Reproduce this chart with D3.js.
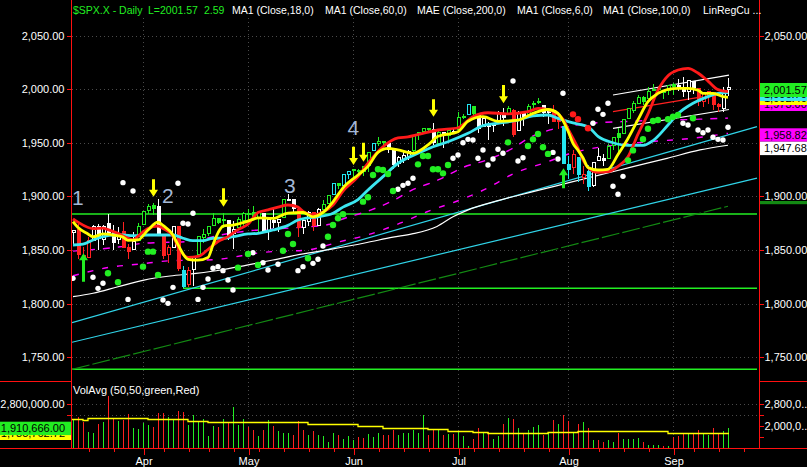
<!DOCTYPE html>
<html>
<head>
<meta charset="utf-8">
<script src="https://cdn.jsdelivr.net/npm/d3@7"></script>
<style>
  body { margin: 0; background: #000; }
  svg { display: block; }
</style>
</head>
<body>
<div id="chart"></div>
<script>
// ---- data ----
// trading days 2014-03-12 .. 2014-09-17, index 0..131
const monthLabels = ['Apr', 'May', 'Jun', 'Jul', 'Aug', 'Sep'];
const monthStartIdx = [14, 35, 56, 77, 99, 120];
const weekStartIdx = [3, 8, 18, 23, 27, 32, 37, 42, 47, 52, 61, 66, 71, 80, 85, 90, 95, 105, 110, 115, 124, 129, 134];

const opens = [1866.2,1869.1,1845.1,1842.8,1858.9,1872.3,1860.1,1874.5,1867.7,1859.5,
  1867.1,1852.1,1850.1,1859.2,1873.96,1886.6,1891.4,1890.3,1863.9,1845.5,
  1852.6,1872.3,1830.7,1818.2,1831.5,1846.0,1861.7,1865.8,1872.6,1879.3,
  1877.7,1877.7,1865.0,1870.8,1877.1,1884.4,1885.3,1879.5,1883.7,1868.5,
  1877.4,1875.3,1880.0,1896.75,1897.1,1888.2,1871.2,1876.7,1884.9,1873.3,
  1888.2,1893.3,1902.0,1911.8,1910.6,1920.3,1923.9,1923.1,1923.1,1928.5,
  1942.4,1948.97,1950.3,1949.4,1943.4,1930.8,1934.8,1937.2,1942.7,1957.5,
  1960.45,1962.9,1961.97,1949.3,1959.9,1956.6,1960.8,1962.3,1973.1,1975.9,
  1984.2,1976.4,1965.1,1966.7,1965.8,1969.9,1977.4,1976.4,1979.8,1961.5,
  1976.9,1975.7,1985.3,1988.1,1984.6,1978.97,1980.0,1973.2,1965.1,1929.8,
  1926.6,1936.3,1917.3,1923.0,1910.35,1933.4,1935.7,1935.6,1947.4,1958.9,
  1958.4,1972.7,1980.5,1986.8,1992.6,1991.7,1998.6,2000.5,1997.4,1998.45,
  2004.1,2003.6,2001.7,1998.0,2007.2,2000.7,1988.4,1992.85,1996.7,1986.0,
  1981.9,1999.3];
const highs = [1868.4,1874.4,1852.4,1862.3,1873.8,1874.1,1873.5,1884.0,1873.3,1871.9,
  1875.9,1855.6,1866.6,1875.2,1885.8,1893.2,1893.8,1897.3,1864.0,1855.0,
  1872.4,1872.5,1835.1,1834.2,1844.0,1862.3,1869.6,1871.9,1884.9,1879.8,
  1884.1,1877.7,1877.0,1880.6,1885.2,1888.6,1891.3,1885.5,1883.7,1878.8,
  1889.1,1878.6,1897.1,1902.2,1897.1,1888.2,1878.3,1886.0,1884.9,1888.8,
  1896.3,1901.3,1912.3,1912.9,1920.0,1924.0,1925.9,1925.1,1928.6,1941.7,
  1949.4,1955.6,1950.9,1949.4,1943.4,1937.3,1941.2,1943.7,1957.7,1959.9,
  1963.9,1963.7,1968.2,1960.8,1959.9,1961.5,1964.2,1978.6,1976.7,1985.6,
  1984.2,1976.4,1974.2,1969.8,1968.7,1979.8,1982.5,1983.9,1981.8,1979.9,
  1976.9,1986.2,1989.2,1991.4,1984.6,1981.5,1984.85,1978.9,1965.1,1937.35,
  1942.9,1936.3,1927.9,1928.9,1932.4,1944.9,1939.65,1948.4,1955.2,1964.0,
  1972.0,1982.6,1988.6,1994.8,1993.5,2002.0,2005.0,2002.1,1998.5,2003.4,
  2006.1,2009.3,2011.2,2007.7,2007.2,2001.0,1996.7,1997.65,1996.7,1987.2,
  2002.3,2010.7];
const lows = [1854.4,1841.9,1839.6,1842.8,1858.9,1850.4,1854.6,1863.5,1849.7,1856.0,
  1852.6,1842.1,1850.1,1859.2,1873.96,1883.8,1882.7,1863.3,1841.5,1837.5,
  1852.4,1830.9,1814.4,1815.8,1816.3,1846.0,1856.7,1863.2,1872.6,1873.9,
  1870.2,1859.7,1850.6,1870.8,1872.7,1878.0,1878.5,1866.8,1867.7,1859.8,
  1870.1,1867.0,1880.0,1896.0,1885.8,1862.4,1864.8,1872.4,1868.1,1873.3,
  1885.4,1893.3,1902.0,1906.5,1909.8,1916.4,1916.0,1918.8,1918.6,1922.9,
  1942.4,1947.2,1944.6,1940.1,1925.8,1927.7,1930.9,1933.6,1939.3,1952.3,
  1959.2,1958.9,1948.3,1947.5,1944.7,1952.2,1958.2,1962.3,1972.6,1975.9,
  1975.9,1959.5,1965.1,1952.9,1959.6,1969.9,1965.3,1975.7,1955.6,1960.8,
  1965.8,1975.7,1982.4,1985.8,1974.4,1967.3,1969.95,1962.4,1930.7,1916.4,
  1921.2,1913.8,1911.45,1904.8,1909.0,1933.4,1928.3,1935.6,1942.9,1941.5,
  1958.4,1972.7,1977.7,1986.8,1984.8,1991.7,1998.6,1996.2,1990.5,1994.65,
  1994.85,1998.1,1992.4,1990.1,1995.6,1984.6,1983.0,1985.9,1980.3,1978.5,
  1979.1,1993.3];
const closes = [1868.2,1846.3,1841.1,1858.8,1872.3,1860.8,1872.0,1866.5,1857.4,1865.6,
  1852.6,1849.0,1857.6,1872.3,1885.5,1890.9,1888.8,1865.1,1845.0,1852.0,
  1872.2,1833.1,1815.7,1830.6,1843.0,1862.3,1864.85,1871.9,1879.6,1875.4,
  1878.6,1863.4,1869.4,1878.3,1883.95,1883.7,1881.1,1884.7,1867.7,1878.2,
  1875.6,1878.5,1896.7,1897.45,1888.5,1870.85,1877.9,1885.1,1872.8,1888.0,
  1892.5,1900.5,1911.9,1909.8,1920.0,1923.6,1925.0,1924.2,1927.9,1940.5,
  1949.4,1951.3,1950.8,1943.9,1930.1,1936.2,1937.8,1942.0,1957.0,1959.5,
  1962.9,1962.6,1950.0,1959.5,1957.2,1961.0,1960.2,1973.3,1974.6,1985.4,
  1977.65,1963.7,1972.8,1964.7,1967.6,1977.1,1973.3,1981.6,1958.1,1978.2,
  1973.6,1983.5,1987.0,1988.0,1978.3,1978.9,1969.95,1970.1,1930.7,1925.15,
  1939.0,1920.2,1920.2,1909.6,1931.6,1936.9,1933.75,1946.7,1955.2,1955.1,
  1971.7,1981.6,1986.5,1992.4,1988.4,1997.9,2000.0,2000.1,1996.7,2003.4,
  2002.3,2000.7,1997.65,2007.7,2001.5,1988.4,1995.7,1997.45,1985.5,1984.1,
  1999.0,2001.57];
// bar paint colour: w white, r red, g green, c cyan
const barColors = ('wrrrwwwwww' + 'rrwggggwrr' + 'wrcrwggggg' + 'gwwgggggww' + 'wwgwwrwwrw' +
  'ggcgccgggg' + 'cggwwwwwgg' + 'ggwgwgwggc' + 'gwwwwwwgrw' + 'wgggwwrrcc' +
  'rcrcwwwggg' + 'gggggggggg' + 'gwwwwrrrrr' + 'ww').split('');

// volume in millions
const volumes = [2.25,2.31,2.15,1.79,1.75,2.07,2.13,3.09,2.27,2.18,
  2.21,2.43,1.91,1.88,2.12,2.03,1.97,2.46,2.49,2.34,
  2.24,2.54,2.52,2.03,2.40,2.19,2.24,1.64,1.99,1.97,
  2.24,2.12,2.70,2.03,2.24,1.97,1.85,1.64,1.87,2.21,
  1.99,1.81,1.75,1.73,1.66,2.18,1.85,1.66,1.81,1.66,
  1.63,1.42,1.73,1.66,1.54,1.63,1.48,1.60,1.57,1.70,
  1.60,1.73,1.66,1.66,1.85,1.66,1.73,1.75,1.85,1.75,
  2.40,1.66,1.87,1.87,1.66,1.70,1.70,1.79,1.63,1.26,
  1.54,1.93,1.76,1.79,1.54,1.63,2.06,2.30,2.25,1.93,
  1.70,1.85,1.97,2.03,1.66,1.79,2.21,2.09,2.40,2.19,
  1.79,2.09,2.13,1.93,1.48,1.48,1.42,1.48,1.42,1.73,
  1.54,1.51,1.51,1.58,1.42,1.30,1.30,1.30,1.26,1.26,
  1.60,1.63,1.75,1.70,1.70,1.85,1.70,1.66,1.93,1.75,
  1.81,1.91];
const volColors = ('grrggrgrrg' + 'rrggggrrrg' + 'grrggggggr' + 'grgggrrgrg' + 'rgggrrrgrg' +
  'gggrgggrrg' + 'ggrrrggggg' + 'grrgrgrggg' + 'rrgrggrgrg' + 'rgggrgrgrr' +
  'grgrgrrggr' + 'ggggrgggrg' + 'rrrgrrggrr' + 'gg').split('');
// 50-day volume average, [start index, millions]
const volAvgSteps = [[-0.3,2.25],[2,2.226],[3,2.275],[15,2.238],[23,2.19],[27,2.153],[38,2.128],
  [47,2.09],[57,2.006],[62,1.933],[71,1.884],[75,1.835],[80,1.786],[83,1.762],[95,1.786],
  [101,1.835],[115,1.811],[119,1.762],[131.2,1.762]];
const lastVolume = 1910666;
const lastVolAvg = 1785762.72;

// indicator lines, [bar index, price]
const redLine = [[0,1879],[1,1876],[4,1870],[6,1870.5],[7,1869],[9,1865.6],[11,1861],[12,1859.4],[13,1863],
  [15,1870],[17,1872.4],[18,1870],[20,1863],[21,1853],[23,1843.2],[25,1844],[27,1850.5],[29,1858],
  [31,1862.5],[33,1869],[35,1874],[37,1885],[39,1887.5],[41,1890],[43,1892],[45,1890],[46,1886],
  [48,1882.7],[50,1885.5],[52,1892],[54,1905],[57,1918.4],[59,1931],[62,1946.3],[65,1954.5],
  [67,1955.5],[70,1958.8],[73,1961.9],[77,1964],[80,1974.3],[83,1978],[87,1977],[91,1979],
  [93,1982],[95,1981],[98,1972],[99,1963],[101,1945],[102,1934],[103,1927],[105,1922.5],
  [107,1923],[109,1928],[111,1937],[113,1958],[115,1977],[117,1999],[119,2012.5],[121,2017.8],
  [123,2019.4],[125,2015],[127,2007.5],[129,1999.5],[131,1997.6]];
const yellowLine = [[0,1876.4],[1,1871],[3,1865],[4,1862.4],[6,1865],[8,1864],[10,1862],[11,1859],
  [13,1859.4],[15,1868.7],[17,1876],[18,1873],[20,1864],[21,1855],[23,1841.4],[25,1840.5],[27,1843],
  [28,1855],[29,1866],[30,1872.4],[32,1873.3],[34,1875.5],[36,1878.6],[37,1880],[40,1879.5],
  [43,1884.5],[46,1885],[48,1881],[50,1885],[52,1895],[54,1908],[57,1920],[59,1928],[61,1941],
  [63,1944.8],[65,1943.3],[68,1940.2],[71,1948],[73,1956],[77,1960.3],[79,1970],[82,1974.3],
  [85,1970],[89,1971.2],[92,1977.4],[95,1981],[97,1977.4],[99,1961],[100,1949.5],[101,1943],
  [102,1936],[103,1927],[105,1924.6],[107,1925.3],[109,1939],[111,1954],[113,1971.5],
  [115,1988.3],[117,1996],[119,1999.8],[121,2000.8],[123,2000.8],[125,1999],[126,1996.1],
  [128,1996.1],[130,1993],[131,1992.4]];
const cyanLine = [[0,1854.7],[2,1855.6],[4,1859.4],[6,1862.4],[8,1864],[10,1864],[12,1863.4],[15,1864],
  [17,1864],[20,1864],[22,1861],[24,1858.7],[26,1858.7],[28,1861],[30,1861],[32,1862.5],[35,1865],
  [37,1865.6],[40,1868.7],[43,1873],[45,1878],[47,1880],[49,1881],[52,1884.3],[54,1890],[57,1897],
  [59,1906],[62,1918.4],[65,1930.9],[69,1940.2],[72,1946.3],[75,1951],[79,1958.8],[82,1966],
  [85,1968.2],[89,1971.2],[92,1975],[95,1975.9],[97,1972.8],[100,1968.5],[103,1965],[105,1956],
  [108,1950],[111,1947.5],[114,1947.5],[116,1952],[119,1966.6],[121,1977],[124,1986.8],
  [127,1993],[129,1996],[131,1996.7]];
const magUpper = [[0,1849],[5.4,1851],[9.4,1853],[13.4,1856],[17.4,1857],[23.4,1858],[29.4,1864],
  [35.4,1868],[43.4,1870.5],[51.4,1874],[53.4,1878],[59.4,1887],[64.4,1897],[67.4,1905],[73.4,1916],
  [78,1927],[82.8,1934],[88,1945],[91.4,1955],[95.4,1962],[103.4,1968],[111.4,1970],[125.4,1972],
  [131,1973]];
const magLower = [[0,1826],[7.4,1834],[13.4,1837],[19.4,1840],[28,1841],[38.4,1848],[46.8,1850],
  [53.4,1857.8],[58.8,1864],[65.4,1875],[70.8,1885.7],[77.4,1896.6],[82.8,1907.5],[88,1921],
  [94.8,1932],[99.4,1940],[105.4,1946],[115.4,1951],[123.4,1954],[131,1958.82]];
const whiteLine = [[0,1806.5],[4,1809.7],[9,1815.8],[14.2,1822],[19.4,1825.8],[24.6,1828.3],
  [29.6,1831.4],[34.8,1836],[40,1840.7],[45.4,1846],[52,1851],[58.8,1857],[64,1862],[67.8,1865],
  [72.8,1872],[76,1881],[78.8,1887],[85.4,1896.5],[92,1904.4],[99.4,1913],[105.4,1920],
  [112,1927.7],[118.8,1935.5],[125.4,1943.3],[131,1947.68]];
const cyanUpper = [[-0.2,1782.3],[136.8,1965]];
const cyanLower = [[-0.2,1764],[136.8,1917]];
const darkGreenLine = [[-0.2,1738.8],[131,1890.8]];
const channelTop = [[108,1994.5],[131.2,2013]];
const channelMid = [[108,1979],[131.2,1997]];
const channelBottom = [[108,1963.5],[131.2,1981]];
const supportLevels = [1883.6, 1814.3, 1738.8];
const supportStart = [-0.2, 22, -0.2];

const whiteDots = [[0,1823.6],[4,1824.6],[5,1814.3],[6,1819],[10,1912.8],[11,1804],[12,1905],[18,1803.4],
  [19,1800.3],[20,1815.2],[21,1912.2],[22,1875],[23,1874.3],[24,1884.3],[25,1804],[26,1815.2],
  [27,1823],[28,1833],[29,1834.5],[30,1830.8],[31,1822],[32,1812.7],[36,1847.5],[38,1838.2],
  [39,1831.4],[41,1836.7],[45,1830.8],[46,1834.5],[48,1837.6],[49,1841.4],[50,1853.7],[65,1906.6],
  [66,1910.3],[67,1912.2],[68,1916.9],[76,1935.5],[77,1938.6],[78,1950],[79,1953.2],[80,1952.6],
  [81,1935.5],[82,1943.3],[83,1929.3],[84,1934.9],[85,1943.9],[86,1940.2],[88,2007.6],[89,1933],
  [90,1936.1],[96,1941],[97,1934.9],[98,1996.1],[104,1968.2],[105,1981.2],[106,1976.5],
  [107,1986.8],[108,1909.5],[109,1902],[110,1918.7],[122,1968.2],[123,1966.6],[125,1961.9],
  [126,1959.4],[127,1961.9],[128,1955.1],[129,1953.2],[130,1952.6],[131,1964.4]];
const greenDots = [[7,1828.3],[9,1820],[14,1834.5],[15,1848.5],[16,1848.5],[17,1826.8],[33,1833.6],
  [35,1846.3],[37,1836],[42,1849.4],[43,1865],[44,1855.6],[47,1842.3],[51,1862.4],[52,1873.3],
  [53,1879.6],[54,1883.3],[58,1895.1],[59,1899.2],[60,1920],[61,1925.3],[62,1924.6],[63,1920.9],
  [64,1905],[69,1929.9],[70,1937.7],[71,1937.7],[72,1925.3],[73,1925.3],[74,1921.5],[75,1929.3],
  [87,1950.4],[91,1947],[92,1953.2],[93,1958.2],[94,1945.8],[95,1939.6],[111,1933.6],[112,1942.9],
  [114,1953.3],[115,1963],[116,1970.3],[117,1971.2],[119,1971.9],[120,1974.3],[121,1975.9],
  [124,1972.8]];
const redDots = [[100,1976.5],[101,1972],[103,1963.5]];

// [bar index, tip price, tail price]
const downArrows = [[16,1899.7,1916],[30,1890.4,1907.5],[56,1929.3,1946.3],[58,1932.4,1950],
  [72,1974.3,1990.5],[86,1986.8,2003.9]];
const upArrows = [[2,1847,1820.5],[98,1926.2,1907.6]];
// wave counts [label, bar index, price at baseline]
const waveLabels = [['1',-0.2,1892],['2',17.8,1894],['3',42.2,1903],['4',54.9,1957.5]];

const priceTicks = [1750, 1800, 1850, 1900, 1950, 2000, 2050];
const volTicksLeft = [2.8, 2.4];
const volTicksRight = [2.8, 2.4, 2.0, 1.6];
const volLabelsRight = {2.8: '2,800,0..', 2.0: '2,000,0..'};

// ---- drawing ----
const FONT = '"Liberation Sans", Arial, sans-serif';
const W = 807, H = 467;
const COL = { w: '#ffffff', r: '#ff2020', g: '#22ee22', c: '#22e5f0' };
const GREEN = '#22ee22', AXIS = '#ff1010';

const x = d3.scaleLinear().domain([0, 131]).range([73, 728]);
const y = d3.scaleLinear().domain([1750, 2050]).range([357.3, 35.5]);
const yv = d3.scaleLinear().domain([2.0, 2.8]).range([426, 404]);
const volBase = 448;

const svg = d3.select('#chart').append('svg').attr('width', W).attr('height', H)
  .attr('font-family', FONT);
svg.append('rect').attr('width', W).attr('height', H).attr('fill', '#000');

const defs = svg.append('defs');
defs.append('clipPath').attr('id', 'pp').append('rect')
  .attr('x', 72).attr('y', 17).attr('width', 686).attr('height', 363);

// grid
const grid = svg.append('g').attr('stroke', '#4a4a4a').attr('stroke-dasharray', '1,3');
grid.selectAll('.hg').data(priceTicks).join('line')
  .attr('x1', 72).attr('x2', 758).attr('y1', d => Math.round(y(d)) + 0.5).attr('y2', d => Math.round(y(d)) + 0.5);
grid.selectAll('.vg').data(volTicksLeft).join('line')
  .attr('x1', 72).attr('x2', 758).attr('y1', d => Math.round(yv(d)) + 0.5).attr('y2', d => Math.round(yv(d)) + 0.5);
grid.selectAll('.mg').data(monthStartIdx).join('line')
  .attr('x1', d => x(d) + 0.5).attr('x2', d => x(d) + 0.5).attr('y1', 18).attr('y2', 447);

const pp = svg.append('g').attr('clip-path', 'url(#pp)');
const line = d3.line().x(d => x(d[0])).y(d => y(d[1]));
const smooth = d3.line().x(d => x(d[0])).y(d => y(d[1])).curve(d3.curveMonotoneX);

// support lines
pp.selectAll('.sup').data(supportLevels).join('line')
  .attr('x1', (d, i) => x(supportStart[i])).attr('x2', x(136.8))
  .attr('y1', d => y(d)).attr('y2', d => y(d))
  .attr('stroke', GREEN).attr('stroke-width', 1.5);

// thin lines
pp.append('path').attr('d', line(cyanUpper)).attr('stroke', '#30d4e8').attr('fill', 'none').attr('stroke-width', 1.2);
pp.append('path').attr('d', line(cyanLower)).attr('stroke', '#30d4e8').attr('fill', 'none').attr('stroke-width', 1.2);
pp.append('path').attr('d', line(darkGreenLine)).attr('stroke', '#138a13').attr('fill', 'none')
  .attr('stroke-width', 1.2).attr('stroke-dasharray', '18,3');
pp.append('path').attr('d', smooth(whiteLine)).attr('stroke', '#ffffff').attr('fill', 'none').attr('stroke-width', 1.2);
pp.append('path').attr('d', smooth(magUpper)).attr('stroke', '#ff00ff').attr('fill', 'none')
  .attr('stroke-width', 1.4).attr('stroke-dasharray', '7,8');
pp.append('path').attr('d', smooth(magLower)).attr('stroke', '#ff00ff').attr('fill', 'none')
  .attr('stroke-width', 1.4).attr('stroke-dasharray', '6,9');
pp.append('path').attr('d', line(channelTop)).attr('stroke', '#ffffff').attr('fill', 'none').attr('stroke-width', 1.2);
pp.append('path').attr('d', line(channelMid)).attr('stroke', '#ff2020').attr('fill', 'none').attr('stroke-width', 1.2);
pp.append('path').attr('d', line(channelBottom)).attr('stroke', '#ffffff').attr('fill', 'none').attr('stroke-width', 1.2);

// candles
const bars = d3.range(closes.length).map(i => ({
  i, o: opens[i], h: highs[i], l: lows[i], c: closes[i], col: COL[barColors[i]]
}));
const cg = pp.append('g').attr('shape-rendering', 'crispEdges');
cg.selectAll('.wick').data(bars).join('line')
  .attr('x1', d => x(d.i) + 0.5).attr('x2', d => x(d.i) + 0.5)
  .attr('y1', d => y(d.h)).attr('y2', d => y(d.l)).attr('stroke', d => d.col);
cg.selectAll('.body').data(bars).join('rect')
  .attr('x', d => x(d.i) - 1)
  .attr('y', d => y(Math.max(d.o, d.c)))
  .attr('width', 3)
  .attr('height', d => Math.max(1, Math.abs(y(d.o) - y(d.c))))
  .attr('fill', d => d.c >= d.o ? '#000' : d.col)
  .attr('stroke', d => d.col).attr('stroke-width', 1);

// thick averages
[[cyanLine, '#3ce6f0'], [redLine, '#ff1a1a'], [yellowLine, '#ffff00']].forEach(([data, c]) => {
  pp.append('path').attr('d', smooth(data)).attr('stroke', c).attr('fill', 'none')
    .attr('stroke-width', 2.8).attr('stroke-linejoin', 'round');
});

// dots
pp.selectAll('.wd').data(whiteDots).join('circle')
  .attr('cx', d => x(d[0])).attr('cy', d => y(d[1])).attr('r', 2.7).attr('fill', '#ffffff');
pp.selectAll('.gd').data(greenDots).join('circle')
  .attr('cx', d => x(d[0])).attr('cy', d => y(d[1])).attr('r', 3.2).attr('fill', GREEN);
pp.selectAll('.rd').data(redDots).join('circle')
  .attr('cx', d => x(d[0])).attr('cy', d => y(d[1])).attr('r', 3.2).attr('fill', '#ff1a1a');

// arrows
function arrow(xc, tip, tail, dir) {
  // dir = 1 pointing down, -1 pointing up
  const head = 7 * dir;
  return `M${xc - 1.5},${tail} L${xc + 1.5},${tail} L${xc + 1.5},${tip - head} L${xc + 4.5},${tip - head} ` +
    `L${xc},${tip} L${xc - 4.5},${tip - head} L${xc - 1.5},${tip - head} Z`;
}
pp.selectAll('.da').data(downArrows).join('path')
  .attr('d', d => arrow(x(d[0]) + 0.5, y(d[1]), y(d[2]), 1)).attr('fill', '#ffff00');
pp.selectAll('.ua').data(upArrows).join('path')
  .attr('d', d => arrow(x(d[0]) + 0.5, y(d[1]), y(d[2]), -1)).attr('fill', GREEN);

// wave counts
pp.selectAll('.wave').data(waveLabels).join('text')
  .attr('x', d => x(d[1])).attr('y', d => y(d[2]))
  .attr('font-size', 21).attr('fill', '#a4b8d6').text(d => d[0]);

// ---- volume pane ----
const vg = svg.append('g').attr('shape-rendering', 'crispEdges');
vg.selectAll('line').data(volumes).join('line')
  .attr('x1', (d, i) => x(i) + 0.5).attr('x2', (d, i) => x(i) + 0.5)
  .attr('y1', d => yv(d)).attr('y2', volBase)
  .attr('stroke', (d, i) => volColors[i] === 'g' ? GREEN : '#ff2020').attr('stroke-width', 1);
svg.append('path')
  .attr('d', d3.line().x(d => x(d[0])).y(d => Math.round(yv(d[1])) + 0.5).curve(d3.curveStepAfter)(volAvgSteps))
  .attr('stroke', '#ffff00').attr('stroke-width', 1.3).attr('fill', 'none');
svg.append('text').attr('x', 73).attr('y', 394).attr('font-size', 11).attr('fill', '#fff')
  .text('VolAvg (50,50,green,Red)');

// ---- frame ----
const frame = svg.append('g').attr('stroke', AXIS).attr('shape-rendering', 'crispEdges');
frame.append('line').attr('x1', 71.5).attr('x2', 71.5).attr('y1', 0).attr('y2', 448);
frame.append('line').attr('x1', 759.5).attr('x2', 759.5).attr('y1', 0).attr('y2', 448);
frame.append('line').attr('x1', 0).attr('x2', 71).attr('y1', 381.5).attr('y2', 381.5);
frame.append('line').attr('x1', 760).attr('x2', W).attr('y1', 381.5).attr('y2', 381.5);
frame.append('line').attr('x1', 0).attr('x2', W).attr('y1', 448.5).attr('y2', 448.5);

function styleAxis(g) {
  g.select('.domain').remove();
  g.attr('font-family', FONT).attr('font-size', 11);
  g.selectAll('line').attr('stroke', AXIS).attr('shape-rendering', 'crispEdges');
  g.selectAll('text').attr('fill', '#fff');
}
const fmt2 = d3.format(',.2f');
svg.append('g').attr('transform', 'translate(71.5,0)')
  .call(d3.axisLeft(y).tickValues(priceTicks).tickFormat(fmt2).tickSize(5).tickPadding(2)).call(styleAxis);
svg.append('g').attr('transform', 'translate(759.5,0)')
  .call(d3.axisRight(y).tickValues(priceTicks.filter(v => v !== 1950 && v !== 2000))
    .tickFormat(fmt2).tickSize(4).tickPadding(1)).call(styleAxis);

// volume axes
svg.append('g').attr('transform', 'translate(71.5,0)')
  .call(d3.axisLeft(yv).tickValues(volTicksLeft).tickSize(5).tickPadding(2)
    .tickFormat(d => d === 2.8 ? '2,800,000.00' : '')).call(styleAxis);
svg.append('g').attr('transform', 'translate(759.5,0)')
  .call(d3.axisRight(yv).tickValues(volTicksRight).tickSize(4).tickPadding(1)
    .tickFormat(d => volLabelsRight[d] || '')).call(styleAxis);

// time axis
svg.append('g').attr('transform', 'translate(0.5,448.5)')
  .call(d3.axisBottom(x).tickValues(monthStartIdx).tickSize(6).tickPadding(3)
    .tickFormat((d, i) => monthLabels[i])).call(styleAxis);
svg.append('g').attr('transform', 'translate(0.5,448.5)')
  .call(d3.axisBottom(x).tickValues(weekStartIdx).tickSize(3).tickFormat('')).call(styleAxis);

// value tags; stacked ones are clipped to the strip that stays visible
let clipN = 0;
function tag(g, x0, w, top, h, fill, txt, anchor, visTop, visH) {
  const t = g.append('g');
  if (visTop !== undefined) {
    const id = 'tagclip' + (clipN++);
    defs.append('clipPath').attr('id', id).append('rect')
      .attr('x', x0).attr('y', visTop).attr('width', w).attr('height', visH);
    t.attr('clip-path', `url(#${id})`);
  }
  t.append('rect').attr('x', x0).attr('y', top).attr('width', w).attr('height', h).attr('fill', fill);
  t.append('text').attr('x', anchor === 'end' ? x0 + w - 6 : x0 + 4).attr('y', top + h / 2 + 4)
    .attr('text-anchor', anchor || 'start').attr('font-size', 11).attr('fill', '#000').text(txt);
}
const tags = svg.append('g');
const lastVal = a => a[a.length - 1][1];
tag(tags, 760, 47, 97, 14, '#ff00ff', fmt2(lastVal(magUpper)), 'start', 105, 6);
tag(tags, 760, 47, 91, 14, '#ffff00', fmt2(lastVal(yellowLine)), 'start', 101, 4);
tag(tags, 760, 47, 87, 14, '#3ce6f0', fmt2(lastVal(cyanLine)), 'start', 97, 4);
tag(tags, 760, 47, 83, 14, GREEN, fmt2(closes[closes.length - 1]));
tag(tags, 760, 47, 128.3, 13.4, '#ff00ff', fmt2(lastVal(magLower)));
tag(tags, 760, 47, 141.7, 13.4, '#ffffff', fmt2(lastVal(whiteLine)));
tags.append('rect').attr('x', 760).attr('y', 201).attr('width', 47).attr('height', 3.2).attr('fill', '#138a13');

// volume tags on the left scale
tag(tags, 0, 71, 426.5, 13.5, '#ffff00', fmt2(lastVolAvg), 'end', 435, 5);
tag(tags, 0, 71, 421.7, 13.4, GREEN, fmt2(lastVolume), 'end');

// header
const hdr = svg.append('g').attr('font-size', 10.5);
[['$SPX.X - Daily', 73, GREEN], ['L=2001.57', 148, GREEN], ['2.59', 204, GREEN],
 ['MA1 (Close,18,0)', 232, '#fff'], ['MA1 (Close,60,0)', 325, '#fff'], ['MAE (Close,200,0)', 417, '#fff'],
 ['MA1 (Close,6,0)', 517, '#fff'], ['MA1 (Close,100,0)', 603, '#fff'], ['LinRegCu ...', 703, '#fff']]
  .forEach(([t, xx, c]) => hdr.append('text').attr('x', xx).attr('y', 14).attr('fill', c).text(t));
</script>
</body>
</html>
